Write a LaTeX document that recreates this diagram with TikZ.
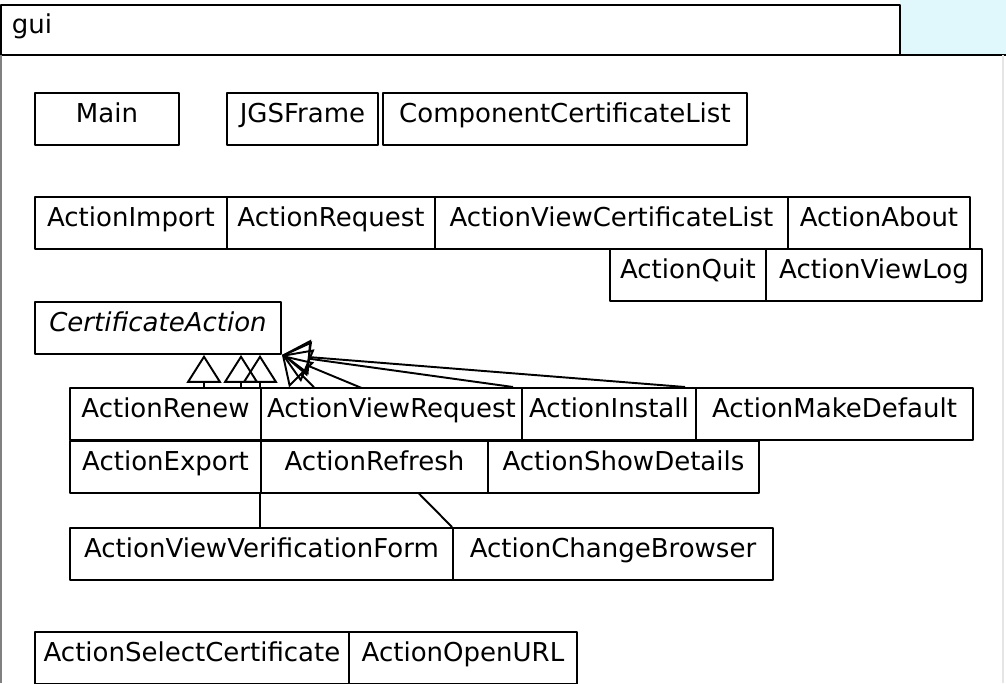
\documentclass[tikz,border=0pt]{standalone}
\usepackage{fontspec}
\setmainfont{DejaVu Sans}
\usetikzlibrary{arrows.meta,backgrounds}
\definecolor{pkgcyan}{RGB}{224,248,252}

\begin{document}
\begin{tikzpicture}[x=0.02cm,y=-0.02cm,line width=1.1pt,line join=round,
	font=\fontsize{14.8}{17}\selectfont,
	cls/.style={draw,fill=white,anchor=north west,inner sep=0pt,
		text height=0.6cm,text depth=0.44cm,minimum width=#1*0.02cm},
	inh/.style={line width=1.1pt,line join=round,
		-{Triangle[open,length=0.56cm,width=0.7cm]}}]
	\useasboundingbox (0,0) rectangle (1006,683);
	% package frame
	\fill[pkgcyan] (900,0) rectangle (1006,55);
	\draw (1,5) rectangle (900,55);
	\node[anchor=base west,inner sep=0pt] (pkg) at (11,33) {gui};
	\draw (0,55) -- (1006,55);
	\draw[gray] (1,55) -- (1,683);
	\draw[gray!20] (1003,55) -- (1003,683);
	% classes
	\node[cls=144] (main) at (34,92) {Main};
	\node[cls=151] (jgs) at (226,92) {JGSFrame};
	\node[cls=364] (ccl) at (382,92) {ComponentCertificateList};
	\node[cls=192] (import) at (34,196) {ActionImport};
	\node[cls=208] (request) at (226,196) {ActionRequest};
	\node[cls=353] (vcl) at (434,196) {ActionViewCertificateList};
	\node[cls=182] (about) at (787,196) {ActionAbout};
	\node[cls=156] (quit) at (609,248) {ActionQuit};
	\node[cls=216] (viewlog) at (765,248) {ActionViewLog};
	\node[cls=246] (ca) at (34,301) {\itshape CertificateAction};
	\node[cls=191] (renew) at (69,387) {ActionRenew};
	\node[cls=261] (vreq) at (260,387) {ActionViewRequest};
	\node[cls=174] (install) at (521,387) {ActionInstall};
	\node[cls=277] (mkdef) at (695,387) {ActionMakeDefault};
	\node[cls=191] (export) at (69,440) {ActionExport};
	\node[cls=227] (refresh) at (260,440) {ActionRefresh};
	\node[cls=271] (details) at (487,440) {ActionShowDetails};
	\node[cls=383] (vvf) at (69,527) {ActionViewVerificationForm};
	\node[cls=320] (browser) at (452,527) {ActionChangeBrowser};
	\node[cls=314] (select) at (34,631) {ActionSelectCertificate};
	\node[cls=228] (openurl) at (348,631) {ActionOpenURL};
	% generalizations
	\begin{scope}[on background layer]
		\draw[inh] (renew.north -| 204,0) -- (ca.south -| 204,0);
		\draw[inh] (export.north -| 241,0) -- (ca.south -| 241,0);
		\draw[inh] (vvf.north -| 260,0) -- (ca.south -| 260,0);
		\draw[inh] (browser.north west) -- (ca.south east);
		\draw[inh] (details.north west) -- (ca.south east);
		\draw[inh] (vreq.north -| 513,0) -- (ca.south east);
		\draw[inh] (install.north -| 685,0) -- (ca.south east);
	\end{scope}
\end{tikzpicture}
\end{document}
